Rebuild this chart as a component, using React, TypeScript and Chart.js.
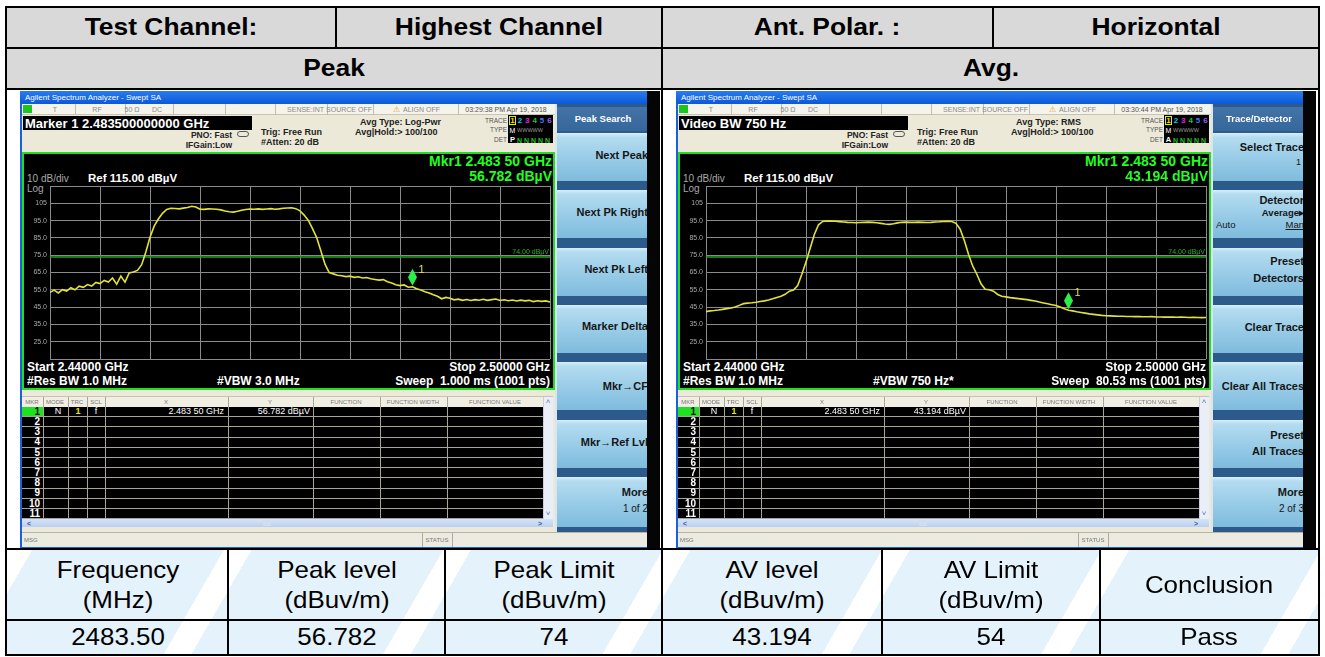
import React, { useEffect, useRef } from 'react';
import { Chart, registerables } from 'chart.js';

Chart.register(...registerables);

// Sweep set-up shared by both analyzer captures
const startMHz = 2440;
const stopMHz = 2500;
const stepMHz = 0.5;
const topLevel = 115;
const bottomLevel = 15;
const levelStep = 10;
const freqDivMHz = 6;
const limitLevel = 74;
const markerMHz = 2483.5;

// Graticule labels on the level axis (top to bottom)
const levelLabels = ['105', '95.0', '85.0', '75.0', '65.0', '55.0', '45.0', '35.0', '25.0'];

// Peak detector trace, dBµV, one value per 0.5 MHz from 2440 to 2500 MHz
const peakTrace = [
  53.5, 54.8, 53.2, 55.1, 54.3, 56.2, 55.0, 57.1, 56.4, 58.0,
  57.2, 59.3, 58.6, 60.4, 59.5, 61.8, 58.2, 62.9, 59.4, 64.8,
  65.3, 66.2, 69.5, 76.8, 85.4, 91.8, 95.9, 99.2, 101.4, 102.1,
  102.0, 101.8, 102.2, 102.6, 103.3, 102.9, 101.6, 101.5, 101.8, 101.7,
  101.6, 101.2, 100.6, 100.1, 99.9, 100.4, 101.0, 101.4, 101.7, 101.6,
  101.8, 101.5, 101.7, 101.9, 101.6, 101.8, 102.1, 102.3, 102.4, 101.9,
  100.6, 98.2, 95.1, 90.4, 85.2, 77.6, 69.8, 65.0, 64.2, 63.4,
  63.1, 62.6, 62.9, 62.2, 62.5, 61.8, 62.1, 61.4, 61.0, 60.6,
  60.9, 59.7, 58.9, 57.9, 57.4, 57.8, 56.5, 56.78, 55.6, 54.9,
  53.9, 53.2, 52.1, 51.3, 49.8, 50.6, 50.1, 49.2, 49.6, 48.9,
  49.4, 48.8, 49.3, 49.0, 49.5, 48.9, 49.3, 49.7, 48.8, 49.2,
  48.7, 49.1, 48.5, 49.0, 48.6, 48.9, 48.2, 48.7, 48.3, 48.6,
  47.9,
];

// RMS average trace, dBµV, same sweep points
const avgTrace = [
  42.4, 42.8, 43.0, 43.3, 43.7, 44.1, 44.5, 45.0, 46.0, 47.0,
  47.3, 47.5, 47.8, 48.2, 48.6, 49.1, 49.8, 50.6, 51.3, 52.4,
  54.2, 54.8, 57.5, 64.0, 71.0, 79.0, 87.0, 92.6, 94.5, 94.8,
  94.7, 94.6, 94.4, 94.2, 94.0, 93.9, 93.8, 93.9, 94.0, 94.1,
  94.0, 93.8, 93.4, 93.0, 92.8, 93.2, 93.7, 94.0, 94.1, 94.0,
  94.0, 94.1, 94.0, 93.9, 94.0, 94.2, 94.3, 94.5, 94.6, 94.5,
  93.4, 90.0, 83.5, 75.5, 68.8, 64.0, 58.5, 55.3, 55.0, 54.2,
  52.3, 51.3, 50.9, 50.5, 50.2, 49.9, 49.6, 49.3, 48.9, 48.5,
  47.9, 47.4, 46.9, 46.4, 45.9, 45.0, 44.1, 43.2, 42.8, 42.3,
  41.9, 41.5, 41.1, 40.8, 40.5, 40.2, 40.0, 39.9, 39.8, 39.7,
  39.7, 39.6, 39.6, 39.5, 39.5, 39.4, 39.4, 39.5, 39.3, 39.3,
  39.2, 39.3, 39.2, 39.1, 39.2, 39.1, 39.0, 39.1, 39.0, 38.9,
  39.0,
];

// Marker readouts
const peakMarker = 56.782;
const avgMarker = 43.194;

// Summary table
const summaryHeads = [
  ['Frequency', '(MHz)'],
  ['Peak level', '(dBuv/m)'],
  ['Peak Limit', '(dBuv/m)'],
  ['AV level', '(dBuv/m)'],
  ['AV Limit', '(dBuv/m)'],
  ['Conclusion'],
];
const peakLimit = 74;
const avLimit = 54;
const summaryValues = [
  markerMHz.toFixed(2),
  peakMarker.toFixed(3),
  String(peakLimit),
  avgMarker.toFixed(3),
  String(avLimit),
  'Pass',
];

const FONT = '"Liberation Sans", Arial, Helvetica, sans-serif';

type Align = 'left' | 'right' | 'center';

function Txt(p: { x: number; y: number; t: string; s: number; c?: string; b?: boolean; a?: Align; sx?: number; u?: boolean }) {
  const { x, y, t, s, c = '#000', b = false, a = 'left', sx = 1, u = false } = p;
  const W = 700;
  const left = a === 'left' ? x : a === 'right' ? x - W : x - W / 2;
  return (
    <div
      style={{
        position: 'absolute',
        left,
        top: y - s / 2,
        width: W,
        height: s,
        lineHeight: `${s}px`,
        fontSize: s,
        fontFamily: FONT,
        fontWeight: b ? 'bold' : 'normal',
        color: c,
        textAlign: a,
        whiteSpace: 'pre',
        transform: sx !== 1 ? `scaleX(${sx})` : undefined,
        transformOrigin: a === 'left' ? '0 50%' : a === 'right' ? '100% 50%' : '50% 50%',
        pointerEvents: 'none',
      }}
    >
      <span style={{ textDecoration: u ? 'underline' : undefined }}>{t}</span>
    </div>
  );
}

function R(p: { x: number; y: number; w: number; h: number; bg?: string; st?: React.CSSProperties; children?: React.ReactNode }) {
  return (
    <div style={{ position: 'absolute', left: p.x, top: p.y, width: p.w, height: p.h, background: p.bg, ...p.st }}>
      {p.children}
    </div>
  );
}

function TraceChart({ trace, marker, x, y }: { trace: number[]; marker: number; x: number; y: number }) {
  const ref = useRef<HTMLCanvasElement>(null);
  useEffect(() => {
    const canvas = ref.current;
    if (!canvas) return;
    const pts = trace.map((v, i) => ({ x: startMHz + i * stepMHz, y: v }));
    const overlay = {
      id: 'saOverlay',
      afterDatasetsDraw(chart: any) {
        const { ctx, chartArea, scales } = chart;
        const xs = scales.x;
        const ys = scales.y;
        ctx.save();
        // limit line caption
        ctx.font = `7px ${FONT}`;
        ctx.fillStyle = '#1fb51f';
        ctx.textAlign = 'right';
        ctx.textBaseline = 'bottom';
        ctx.fillText(`${limitLevel.toFixed(2)} dBµV`, chartArea.right - 1, ys.getPixelForValue(limitLevel) - 1);
        // marker diamond resting on the trace
        const mx = xs.getPixelForValue(markerMHz);
        const tip = ys.getPixelForValue(marker) - 1;
        ctx.beginPath();
        ctx.moveTo(mx, tip);
        ctx.lineTo(mx + 4.5, tip - 8.5);
        ctx.lineTo(mx, tip - 17);
        ctx.lineTo(mx - 4.5, tip - 8.5);
        ctx.closePath();
        ctx.fillStyle = '#2bef4a';
        ctx.fill();
        ctx.font = `11px ${FONT}`;
        ctx.fillStyle = '#e4e03a';
        ctx.textAlign = 'left';
        ctx.textBaseline = 'middle';
        ctx.fillText('1', mx + 6, tip - 16);
        ctx.restore();
      },
    };
    const gridColor = '#8a8a8a';
    const chart = new Chart(canvas, {
      type: 'line',
      data: {
        datasets: [
          {
            data: pts,
            borderColor: '#e2e23a',
            borderWidth: 1.6,
            pointRadius: 0,
            tension: 0,
          },
          {
            data: [
              { x: startMHz, y: limitLevel },
              { x: stopMHz, y: limitLevel },
            ],
            borderColor: '#17a317',
            borderWidth: 1.5,
            pointRadius: 0,
          },
        ],
      },
      options: {
        animation: false,
        responsive: false,
        maintainAspectRatio: false,
        events: [],
        layout: { padding: { top: 8, bottom: 8, left: 0, right: 2 } },
        plugins: { legend: { display: false }, tooltip: { enabled: false } },
        scales: {
          x: {
            type: 'linear',
            min: startMHz,
            max: stopMHz,
            ticks: { display: false, stepSize: freqDivMHz },
            grid: { color: gridColor, drawTicks: false, lineWidth: 1 },
            border: { display: false },
          },
          y: {
            type: 'linear',
            min: bottomLevel,
            max: topLevel,
            ticks: {
              stepSize: levelStep,
              padding: 3,
              color: '#a8a8a8',
              font: { size: 7, family: FONT },
              callback: (v: any) => {
                const k = Math.round((105 - Number(v)) / levelStep);
                return k >= 0 && k < levelLabels.length ? levelLabels[k] : '';
              },
            },
            grid: { color: gridColor, drawTicks: false, lineWidth: 1 },
            border: { display: false },
            afterFit: (s: any) => {
              s.width = 26;
            },
          },
        },
      },
      plugins: [overlay],
    } as any);
    return () => chart.destroy();
  }, [trace, marker]);
  return <canvas ref={ref} width={528} height={189} style={{ position: 'absolute', left: x, top: y, display: 'block' }} />;
}

type KeyLine = { t: string; dy: number; s?: number; b?: boolean; a?: Align; u?: boolean; dx?: number };

function SoftKeys({ ox, title, keys }: { ox: number; title: string; keys: KeyLine[][] }) {
  const kx = 557 + ox;
  const kw = 90;
  return (
    <>
      <R x={555 + ox} y={104} w={92} h={428} bg="#2c5a8a" />
      <R x={555 + ox} y={104} w={2} h={428} bg="#d8e6f0" />
      <R x={kx} y={107} w={kw} h={24} bg="linear-gradient(#4474a6, #36679a)" />
      <Txt x={kx + 46} y={119} t={title} s={9.5} c="#ffffff" b a="center" />
      {keys.map((lines, i) => {
        const top = 133 + 57.3 * i;
        const h = i === keys.length - 1 ? 50 : 48;
        return (
          <R
            key={i}
            x={kx}
            y={top}
            w={kw}
            h={h}
            bg="linear-gradient(#d6eef9 0px, #b4dcf0 4px, #97cbe7 55%, #7fbbdd 100%)"
            st={{ overflow: 'hidden' }}
          >
            {lines.map((ln, j) => {
              const a = ln.a || 'right';
              const xx = a === 'left' ? 3 + (ln.dx || 0) : kw + 1 + (ln.dx || 0);
              return (
                <Txt key={j} x={xx} y={ln.dy} t={ln.t} s={ln.s || 11} c="#161616" b={ln.b !== false} a={a} u={ln.u} />
              );
            })}
          </R>
        );
      })}
    </>
  );
}

type ScreenProps = {
  ox: number;
  markerLine: string;
  avgType: string;
  clock: string;
  detLetter: string;
  vbw: string;
  sweep: string;
  trace: number[];
  marker: number;
  softTitle: string;
  keys: KeyLine[][];
};

function Screen(p: ScreenProps) {
  const { ox } = p;
  const X = (v: number) => v + ox;
  const beige = '#ece9d8';
  const statusDividers = [75, 125, 173, 225, 275, 327, 373, 458];
  const tableCols = [43, 68, 87, 105, 228, 313, 380, 447, 543];
  const rowTop = 407;
  const rowH = 10.2;
  const traceNums = [
    { t: '1', c: '#e8e800' },
    { t: '2', c: '#19c8e0' },
    { t: '3', c: '#e020e0' },
    { t: '4', c: '#20c040' },
    { t: '5', c: '#5070ff' },
    { t: '6', c: '#9a5cff' },
  ];
  const markerFreqText = `${(markerMHz / 1000).toFixed(5).replace(/(\d{3})(\d{2})$/, '$1 $2')} GHz`;
  const levelText = `${p.marker.toFixed(3)} dBµV`;
  return (
    <>
      {/* window frame */}
      <R x={X(20)} y={91} w={640} h={458} bg="#050505" />
      <R x={X(20)} y={91} w={627} h={458} bg="#1a62d6" />
      <R x={X(20)} y={91} w={627} h={13} bg="linear-gradient(#2a7cf0, #0b58d8)" />
      <Txt x={X(25)} y={97.5} t="Agilent Spectrum Analyzer - Swept SA" s={8} c="#ffffff" />
      {/* instrument body */}
      <R x={X(22)} y={104} w={533} h={428} bg={beige} />
      {/* status row */}
      <R x={X(22)} y={104} w={533} h={11} bg="#f4f3ec" st={{ borderBottom: '1px solid #c8c4b0', boxSizing: 'border-box' }} />
      <R x={X(23)} y={105} w={9} h={8} bg="#19c619" />
      {statusDividers.map((d, i) => (
        <R key={i} x={X(d)} y={104} w={1} h={11} bg="#c0bcaa" />
      ))}
      <Txt x={X(55)} y={109.5} t="T" s={7} c="#8a8a8a" a="center" />
      <Txt x={X(97)} y={109.5} t="RF" s={7} c="#8a8a8a" a="center" />
      <Txt x={X(132)} y={109.5} t="50 Ω" s={7} c="#8a8a8a" a="center" />
      <Txt x={X(157)} y={109.5} t="DC" s={7} c="#8a8a8a" a="center" />
      <Txt x={X(324)} y={109.5} t="SENSE:INT" s={7} c="#8a8a8a" a="right" />
      <Txt x={X(349)} y={109.5} t="SOURCE OFF" s={7} c="#8a8a8a" a="center" />
      <Txt x={X(393)} y={109.5} t="⚠" s={8} c="#d4a800" />
      <Txt x={X(403)} y={109.5} t="ALIGN OFF" s={7} c="#8a8a8a" />
      <Txt x={X(506)} y={109.5} t={p.clock} s={7} c="#555555" a="center" />
      {/* settings block */}
      <R x={X(23)} y={116} w={229} h={14} bg="#000" />
      <Txt x={X(25)} y={123} t={p.markerLine} s={13} c="#ffffff" b />
      <Txt x={X(232)} y={135.5} t="PNO: Fast" s={8.5} c="#222" b a="right" />
      <Txt x={X(232)} y={145} t="IFGain:Low" s={8.5} c="#222" b a="right" />
      <R x={X(237)} y={131} w={12} h={6} st={{ border: '1px solid #555', borderRadius: 3, boxSizing: 'border-box' }} />
      <Txt x={X(261)} y={132.5} t="Trig: Free Run" s={9} c="#222" b />
      <Txt x={X(261)} y={142.5} t="#Atten: 20 dB" s={9} c="#222" b />
      <Txt x={X(360)} y={122} t={`Avg Type: ${p.avgType}`} s={9} c="#222" b />
      <Txt x={X(355)} y={132} t="Avg|Hold:> 100/100" s={9} c="#222" b />
      <Txt x={X(507)} y={121} t="TRACE" s={6.5} c="#555" a="right" />
      <Txt x={X(507)} y={130.5} t="TYPE" s={6.5} c="#555" a="right" />
      <Txt x={X(507)} y={140} t="DET" s={6.5} c="#555" a="right" />
      <R x={X(508)} y={115} w={45} h={28} bg="#000" />
      <R x={X(509)} y={116} w={7} h={9} st={{ border: '1px solid #e8e800', boxSizing: 'border-box' }} />
      {traceNums.map((n, i) => (
        <Txt key={i} x={X(512.5 + i * 7.4)} y={121} t={n.t} s={8} c={n.c} b a="center" />
      ))}
      <Txt x={X(512.5)} y={130.5} t="M" s={7} c="#ffffff" a="center" />
      <Txt x={X(517)} y={130.5} t="WWWWW" s={5.5} c="#9a9a9a" />
      <Txt x={X(512.5)} y={140} t={p.detLetter} s={7.5} c="#ffffff" b a="center" />
      <Txt x={X(517)} y={140} t="N N N N N" s={7} c="#22c022" b />
      {/* display */}
      <R x={X(22)} y={152} w={533} h={238} bg="#000" st={{ border: '2px solid #1ee01e', boxSizing: 'border-box' }} />
      <Txt x={X(27)} y={179} t="10 dB/div" s={10} c="#a8a8a8" />
      <Txt x={X(27)} y={189} t="Log" s={10} c="#a8a8a8" />
      <Txt x={X(88)} y={179} t={`Ref ${topLevel.toFixed(2)} dBµV`} s={11.5} c="#ffffff" b />
      <Txt x={X(552)} y={161} t={`Mkr1 ${markerFreqText}`} s={14} c="#22ff22" b a="right" />
      <Txt x={X(552)} y={176} t={levelText} s={14} c="#22ff22" b a="right" />
      <Txt x={X(27)} y={367} t={`Start ${(startMHz / 1000).toFixed(5)} GHz`} s={12} c="#ffffff" b />
      <Txt x={X(27)} y={381} t="#Res BW 1.0 MHz" s={12} c="#ffffff" b />
      <Txt x={X(217)} y={381} t={p.vbw} s={12} c="#ffffff" b />
      <Txt x={X(550)} y={367} t={`Stop ${(stopMHz / 1000).toFixed(5)} GHz`} s={12} c="#ffffff" b a="right" />
      <Txt x={X(550)} y={381} t={p.sweep} s={12} c="#ffffff" b a="right" />
      <TraceChart trace={p.trace} marker={p.marker} x={X(24)} y={178} />
      {/* marker table */}
      <R x={X(22)} y={396} w={531} h={11} bg="#f1efe4" st={{ borderTop: '1px solid #c8c4b0', boxSizing: 'border-box' }} />
      <Txt x={X(32)} y={401.5} t="MKR" s={6} c="#777" a="center" />
      <Txt x={X(55)} y={401.5} t="MODE" s={6} c="#777" a="center" />
      <Txt x={X(77)} y={401.5} t="TRC" s={6} c="#777" a="center" />
      <Txt x={X(96)} y={401.5} t="SCL" s={6} c="#777" a="center" />
      <Txt x={X(166)} y={401.5} t="X" s={6} c="#777" a="center" />
      <Txt x={X(270)} y={401.5} t="Y" s={6} c="#777" a="center" />
      <Txt x={X(346)} y={401.5} t="FUNCTION" s={6} c="#777" a="center" />
      <Txt x={X(413)} y={401.5} t="FUNCTION WIDTH" s={6} c="#777" a="center" />
      <Txt x={X(495)} y={401.5} t="FUNCTION VALUE" s={6} c="#777" a="center" />
      <R x={X(22)} y={rowTop} w={521} h={rowH * 11 + 1} bg="#000" />
      {Array.from({ length: 11 }, (_, i) => (
        <R key={i} x={X(22)} y={rowTop + rowH * (i + 1) - 1} w={521} h={1} bg="#a8a496" />
      ))}
      {tableCols.map((c, i) => (
        <R key={i} x={X(c)} y={397} w={1} h={rowH * 11 + 10} bg="#a8a496" />
      ))}
      <R x={X(22)} y={rowTop} w={21} h={rowH - 1} bg="#20e020" />
      {Array.from({ length: 11 }, (_, i) => (
        <Txt key={i} x={X(40)} y={rowTop + rowH * i + 4.8} t={String(i + 1)} s={10} c={i === 0 ? '#0a0a0a' : '#ffffff'} b a="right" />
      ))}
      <Txt x={X(58)} y={rowTop + 4.8} t="N" s={9} c="#ffffff" a="center" />
      <Txt x={X(78)} y={rowTop + 4.8} t="1" s={9} c="#e8e800" b a="center" />
      <Txt x={X(96)} y={rowTop + 4.8} t="f" s={9} c="#ffffff" a="center" />
      <Txt x={X(224)} y={rowTop + 4.8} t={markerFreqText} s={9} c="#ffffff" a="right" />
      <Txt x={X(310)} y={rowTop + 4.8} t={levelText} s={9} c="#ffffff" a="right" />
      <R x={X(543)} y={rowTop - 10} w={10} h={rowH * 11 + 10} bg="#e9eef8" st={{ borderLeft: '1px solid #c8cfe0', boxSizing: 'border-box' }} />
      <Txt x={X(548)} y={402} t="˄" s={8} c="#5878b8" a="center" />
      <Txt x={X(548)} y={514} t="˅" s={8} c="#5878b8" a="center" />
      <R x={X(22)} y={519} w={531} h={8} bg="linear-gradient(#d6e4fa, #b9cff2)" />
      <Txt x={X(27)} y={523} t="<" s={7} c="#3a5a9a" b />
      <Txt x={X(538)} y={523} t=">" s={7} c="#3a5a9a" b />
      <R x={X(263)} y={520} w={8} h={6} bg="#cfdcf5" />
      {/* message bar */}
      <R x={X(22)} y={532} w={625} h={15} bg="#ecebe2" st={{ borderTop: '1px solid #b8b4a2', boxSizing: 'border-box' }} />
      <Txt x={X(24)} y={539.5} t="MSG" s={6} c="#777" />
      <R x={X(422)} y={533} w={1} h={14} bg="#b0ac9a" />
      <R x={X(452)} y={533} w={1} h={14} bg="#b0ac9a" />
      <Txt x={X(437)} y={539.5} t="STATUS" s={6} c="#777" a="center" />
      <SoftKeys ox={ox} title={p.softTitle} keys={p.keys} />
    </>
  );
}

const peakKeys: KeyLine[][] = [
  [{ t: 'Next Peak', dy: 22 }],
  [{ t: 'Next Pk Right', dy: 22 }],
  [{ t: 'Next Pk Left', dy: 22 }],
  [{ t: 'Marker Delta', dy: 22 }],
  [{ t: 'Mkr→CF', dy: 24 }],
  [{ t: 'Mkr→Ref Lvl', dy: 23 }],
  [
    { t: 'More', dy: 16 },
    { t: '1 of 2', dy: 32, s: 10, b: false },
  ],
];

const avgKeys: KeyLine[][] = [
  [
    { t: 'Select Trace', dy: 14 },
    { t: '1', dy: 29, s: 9, b: false, dx: -3 },
  ],
  [
    { t: 'Detector', dy: 10 },
    { t: 'Average▸', dy: 22, s: 9.5 },
    { t: 'Auto', dy: 34, s: 9.5, b: false, a: 'left' },
    { t: 'Man', dy: 34, s: 9.5, b: false, u: true },
  ],
  [
    { t: 'Preset', dy: 14 },
    { t: 'Detectors', dy: 31 },
  ],
  [{ t: 'Clear Trace', dy: 23 }],
  [{ t: 'Clear All Traces', dy: 24 }],
  [
    { t: 'Preset', dy: 16 },
    { t: 'All Traces', dy: 32 },
  ],
  [
    { t: 'More', dy: 16 },
    { t: '2 of 3', dy: 32, s: 10, b: false },
  ],
];

export default function App() {
  const lineC = '#000';
  const stripes =
    'repeating-linear-gradient(120deg, #ffffff 0px, #ffffff 24px, #e3f2fb 24px, #e3f2fb 190px)';
  const colEdges = [7, 228, 445, 662, 882, 1100, 1318];
  return (
    <div style={{ position: 'relative', width: 1325, height: 657, background: '#fff', overflow: 'hidden' }}>
      <style>{'body{margin:0;}'}</style>
      {/* header rows */}
      <R x={5} y={6} w={1315} h={83} bg="#d9d9d9" />
      <R x={5} y={549} w={1315} h={107} bg={stripes} />
      <Txt x={171} y={27} t="Test Channel:" s={24} b a="center" sx={1.1} />
      <Txt x={499} y={27} t="Highest Channel" s={24} b a="center" sx={1.1} />
      <Txt x={827} y={27} t="Ant. Polar. :" s={24} b a="center" sx={1.1} />
      <Txt x={1156} y={27} t="Horizontal" s={24} b a="center" sx={1.1} />
      <Txt x={334} y={68} t="Peak" s={24} b a="center" sx={1.1} />
      <Txt x={991} y={68} t="Avg." s={24} b a="center" sx={1.1} />

      <Screen
        ox={0}
        markerLine={`Marker 1 ${(markerMHz / 1000).toFixed(12)} GHz`}
        avgType="Log-Pwr"
        clock="03:29:38 PM Apr 19, 2018"
        detLetter="P"
        vbw="#VBW 3.0 MHz"
        sweep="Sweep  1.000 ms (1001 pts)"
        trace={peakTrace}
        marker={peakMarker}
        softTitle="Peak Search"
        keys={peakKeys}
      />
      <Screen
        ox={656}
        markerLine="Video BW 750 Hz"
        avgType="RMS"
        clock="03:30:44 PM Apr 19, 2018"
        detLetter="A"
        vbw="#VBW 750 Hz*"
        sweep="Sweep  80.53 ms (1001 pts)"
        trace={avgTrace}
        marker={avgMarker}
        softTitle="Trace/Detector"
        keys={avgKeys}
      />

      {/* summary rows */}
      {summaryHeads.map((h, i) => {
        const cx = (colEdges[i] + colEdges[i + 1]) / 2;
        return h.length === 2 ? (
          <React.Fragment key={i}>
            <Txt x={cx} y={570} t={h[0]} s={24} a="center" sx={1.08} />
            <Txt x={cx} y={600} t={h[1]} s={24} a="center" sx={1.08} />
          </React.Fragment>
        ) : (
          <Txt key={i} x={cx} y={585} t={h[0]} s={24} a="center" sx={1.08} />
        );
      })}
      {summaryValues.map((v, i) => (
        <Txt key={i} x={(colEdges[i] + colEdges[i + 1]) / 2} y={637} t={v} s={24} a="center" sx={1.08} />
      ))}

      {/* table rules */}
      <R x={5} y={6} w={1315} h={2} bg={lineC} />
      <R x={5} y={654} w={1315} h={2} bg={lineC} />
      <R x={5} y={6} w={2} h={650} bg={lineC} />
      <R x={1318} y={6} w={2} h={650} bg={lineC} />
      <R x={5} y={47} w={1315} h={2} bg={lineC} />
      <R x={5} y={88} w={1315} h={2} bg={lineC} />
      <R x={5} y={548} w={1315} h={2} bg={lineC} />
      <R x={5} y={619} w={1315} h={2} bg={lineC} />
      <R x={335} y={6} w={2} h={42} bg={lineC} />
      <R x={992} y={6} w={2} h={42} bg={lineC} />
      <R x={661} y={6} w={2} h={650} bg={lineC} />
      {[227, 444, 881, 1099].map((x) => (
        <R key={x} x={x} y={548} w={2} h={108} bg={lineC} />
      ))}
    </div>
  );
}
